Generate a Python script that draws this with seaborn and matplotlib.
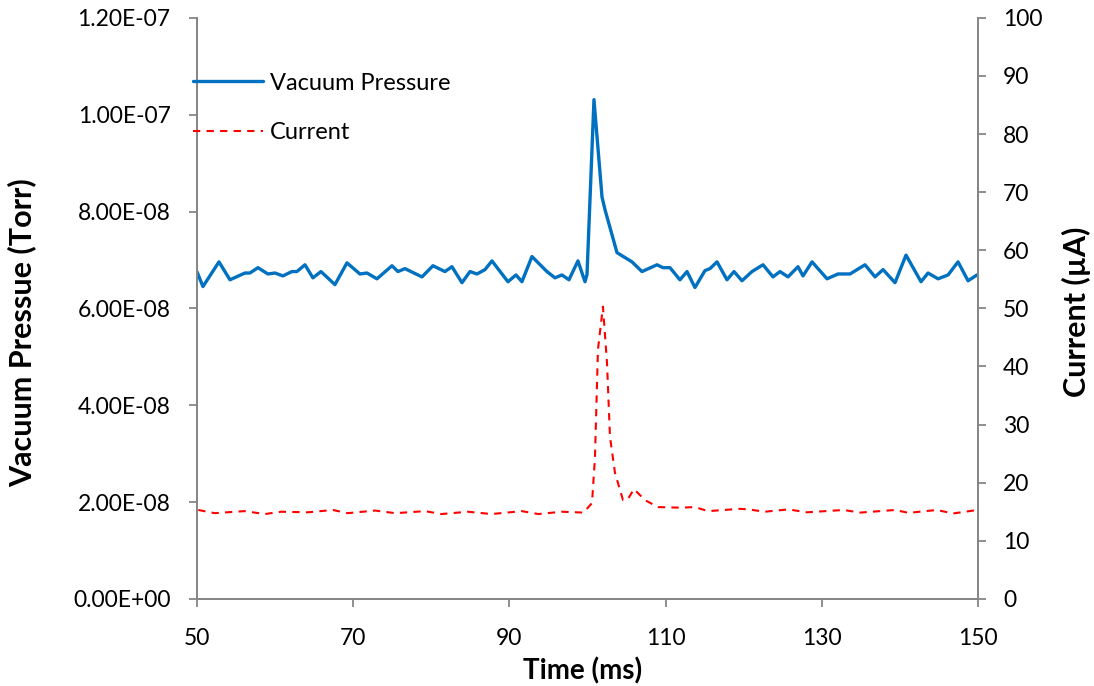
import matplotlib
matplotlib.use("Agg")
import matplotlib.pyplot as plt
import matplotlib.ticker as mticker
import numpy as np
import pandas as pd
import seaborn as sns

# vacuum pressure trace (time in ms, pressure in Torr)
p_time = [50.0, 50.77, 52.82, 54.23, 56.15, 56.79, 57.81, 59.09, 59.99, 61.01,
          62.16, 62.80, 63.83, 64.85, 65.88, 67.67, 69.21, 70.87, 71.77, 73.05,
          74.97, 75.74, 76.63, 78.81, 80.22, 81.75, 82.65, 83.93, 84.96, 85.85,
          86.88, 87.77, 89.82, 90.85, 91.61, 92.89, 94.81, 95.84, 96.73, 97.63,
          98.78, 99.68, 99.94, 100.83, 101.86, 102.24, 103.78, 105.70, 106.98, 108.90,
          109.67, 110.56, 111.84, 112.74, 113.76, 115.04, 115.68, 116.58, 117.86, 118.76,
          119.78, 121.06, 122.47, 123.75, 124.65, 125.67, 126.95, 127.59, 128.75, 130.67,
          132.07, 133.61, 135.53, 136.81, 137.84, 139.37, 140.78, 142.70, 143.60, 144.88,
          146.16, 147.44, 148.72, 149.87, 150.0]
p_val = [6.76, 6.45, 6.96, 6.59, 6.73, 6.73, 6.84, 6.71, 6.73, 6.67,
         6.76, 6.76, 6.90, 6.63, 6.76, 6.49, 6.94, 6.71, 6.73, 6.61,
         6.88, 6.76, 6.82, 6.65, 6.88, 6.76, 6.86, 6.53, 6.76, 6.71,
         6.80, 6.98, 6.55, 6.69, 6.55, 7.07, 6.76, 6.63, 6.69, 6.59,
         6.98, 6.55, 6.70, 10.31, 8.30, 8.04, 7.15, 6.96, 6.76, 6.90,
         6.84, 6.84, 6.59, 6.76, 6.43, 6.78, 6.82, 6.96, 6.59, 6.76,
         6.57, 6.76, 6.90, 6.65, 6.76, 6.65, 6.86, 6.67, 6.96, 6.61,
         6.71, 6.71, 6.90, 6.65, 6.80, 6.53, 7.10, 6.55, 6.73, 6.61,
         6.69, 6.96, 6.57, 6.69, 6.69]
p_val = [v * 1e-8 for v in p_val]

# beam current trace (time in ms, current in uA)
c_time = [50.17, 52.3, 54.87, 56.1, 58.7, 60.8, 64.2, 67.4, 69.3, 72.8,
          75.4, 79.2, 81.3, 84.7, 87.7, 91.6, 93.7, 96.7, 99.5, 100.58,
          100.96, 101.34, 101.98, 102.50, 102.88, 103.52, 104.55, 105.19, 105.95, 107.36,
          109.03, 111.84, 113.76, 115.43, 119.53, 120.6, 122.7, 125.7, 128.1, 132.8,
          134.9, 139.4, 141.1, 144.7, 146.8, 149.4, 150.0]
c_val = [15.3, 14.75, 15.0, 15.1, 14.6, 15.0, 14.9, 15.3, 14.75, 15.2,
         14.75, 15.1, 14.6, 15.0, 14.6, 15.1, 14.6, 15.0, 14.85, 16.5,
         24.4, 42.9, 50.3, 40.6, 27.9, 21.7, 17.0, 17.2, 18.9, 17.0,
         15.8, 15.7, 15.8, 15.1, 15.5, 15.4, 15.0, 15.4, 14.9, 15.3,
         14.85, 15.3, 14.8, 15.3, 14.7, 15.2, 15.1]

df_p = pd.DataFrame({"Time": p_time, "Pressure": p_val})
df_c = pd.DataFrame({"Time": c_time, "Current": c_val})

sns.set_style("white")
plt.rcParams["font.family"] = ["Lato", "DejaVu Sans"]
plt.rcParams["text.color"] = "black"
plt.rcParams["axes.labelcolor"] = "black"

fig, ax = plt.subplots(figsize=(10.94, 6.86), dpi=100)
fig.subplots_adjust(left=0.180, right=0.894, top=0.974, bottom=0.127)
ax2 = ax.twinx()

sns.lineplot(data=df_p, x="Time", y="Pressure", ax=ax, color="#0070C0",
             linewidth=2.4, label="Vacuum Pressure", legend=False, sort=False,
             solid_joinstyle="round")
sns.lineplot(data=df_c, x="Time", y="Current", ax=ax2, color="#FF0000",
             linewidth=1.5, linestyle=(0, (3.5, 3)), label="Current", legend=False, sort=False)

ax.set_xlim(50, 150)
ax.set_xticks(np.arange(50, 151, 20))
ax.set_ylim(0, 1.2e-7)
ax.set_yticks(np.arange(0, 1.21e-7, 2e-8))
ax.yaxis.set_major_formatter(mticker.FuncFormatter(lambda v, p: "{:.2E}".format(v)))
ax2.set_ylim(0, 100)
ax2.set_yticks(np.arange(0, 101, 10))

ax.set_xlabel("Time (ms)", fontsize=20, fontweight="bold")
ax.set_ylabel("Vacuum Pressue (Torr)", fontsize=22, fontweight="bold")
ax2.set_ylabel("Current (\u00b5A)", fontsize=22, fontweight="bold")
ax.xaxis.set_label_coords(0.4936, -0.100)
ax.yaxis.set_label_coords(-0.205, 0.458)
ax2.yaxis.set_label_coords(1.1076, 0.494)

spine_col = "#868686"
for a in (ax, ax2):
    for s in a.spines.values():
        s.set_color(spine_col)
        s.set_linewidth(1.3)
    a.spines["top"].set_visible(False)
    a.tick_params(colors=spine_col, labelcolor="black", labelsize=16.5,
                  length=6, width=1.3, direction="out")
ax.tick_params(axis="y", left=True, right=False, pad=13)
ax.tick_params(axis="x", bottom=True, pad=15)
ax2.tick_params(axis="y", right=True, left=False, pad=12)

h1, l1 = ax.get_legend_handles_labels()
h2, l2 = ax2.get_legend_handles_labels()
ax2.legend(h1 + h2, l1 + l2, loc="upper left", bbox_to_anchor=(0.1764, 0.894),
           bbox_transform=fig.transFigure, frameon=False, fontsize=17,
           handlelength=2.97, handletextpad=0.3, labelspacing=1.2,
           borderaxespad=0, borderpad=0)

fig.savefig("out.png", dpi=100)
